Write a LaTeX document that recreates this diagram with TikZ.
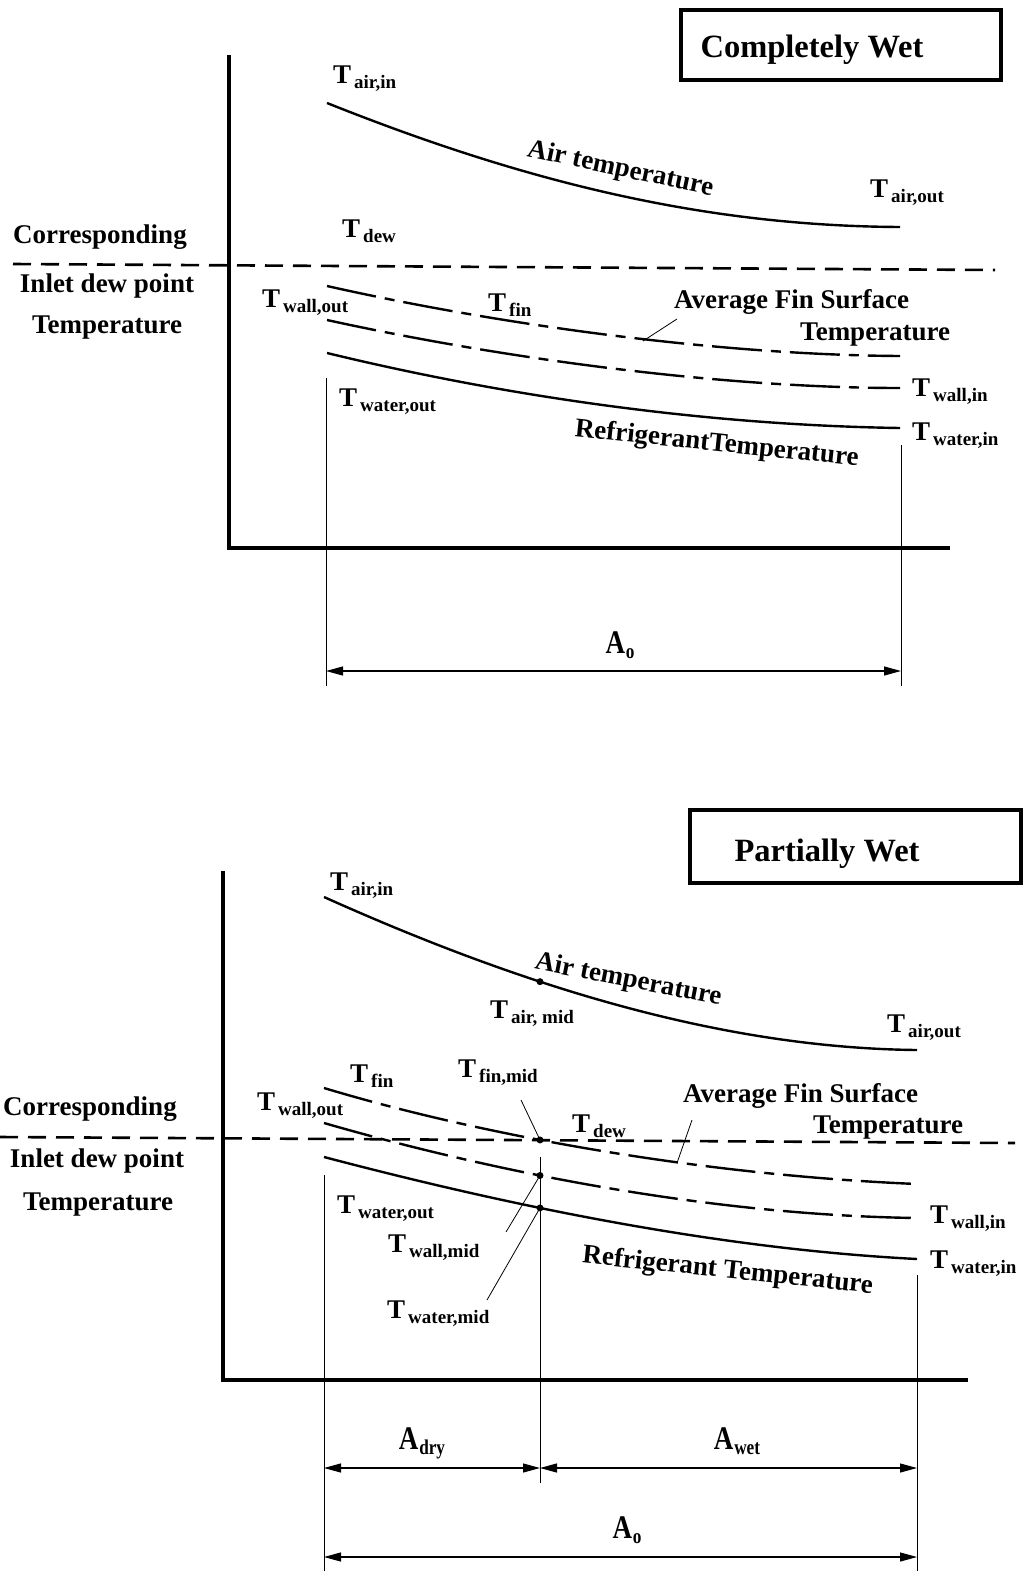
\documentclass[tikz,border=0pt]{standalone}
\usepackage{fontspec}
\usepackage{graphicx}
\setmainfont{Liberation Serif}
\usetikzlibrary{arrows.meta,intersections}
\newcommand\labfont{\fontsize{27}{30}\selectfont\bfseries}
\newcommand\Tl[1]{T\kern3pt\raisebox{-5pt}{\fontsize{19}{19}\selectfont #1}}
\newcommand\Al[1]{\scalebox{0.82}[1]{\fontsize{33}{33}\selectfont\bfseries A\kern1pt\raisebox{-5pt}{\fontsize{21}{21}\selectfont #1}}}
\begin{document}
\begin{tikzpicture}[x=1pt,y=-1pt,
  lbl/.style={font=\labfont, inner sep=0pt},
  axisline/.style={line width=4pt},
  curve/.style={line width=2.4pt},
  dashdot/.style={curve, dash pattern=on 50pt off 9pt on 10pt off 9pt},
  dewline/.style={line width=2.6pt, dash pattern=on 18pt off 10pt},
  thinline/.style={line width=0.9pt},
  leader/.style={line width=0.8pt},
  dimline/.style={line width=1.2pt,{Triangle[length=17pt,width=9pt]}-{Triangle[length=17pt,width=9pt]}},
  titlebox/.style={draw, line width=3.5pt, inner sep=0pt, font=\fontsize{32.5}{36}\selectfont\bfseries},
  dotmark/.style={circle, fill, inner sep=0pt, minimum size=7pt}]
\useasboundingbox (0,0) rectangle (1026,1571);

% ================= TOP PANEL =================
\node[titlebox, minimum width=320pt, minimum height=70pt] (box1) at (841,45) {\raisebox{-13pt}[0pt][0pt]{Completely Wet}\hspace*{58pt}};

\coordinate (y1top) at (229,55);
\coordinate (origin1) at (229,548);
\coordinate (x1end) at (950,548);
\draw[axisline] (y1top) -- (origin1) -- (x1end);

\coordinate (dew1a) at (13,264);
\coordinate (dew1b) at (995,270);
\draw[dewline] (dew1a) -- (dew1b);

\draw[curve] (327,103) .. controls (520,180) and (700,226) .. (900,227);
\draw[dashdot] (327,286) .. controls (500,325) and (720,355) .. (900,356);
\draw[dashdot] (327,320) .. controls (500,358) and (720,388) .. (900,388);
\draw[curve] (327,353) .. controls (500,395) and (700,425) .. (900,428);

\node[lbl, anchor=base west] (tairin1) at (333,84) {\Tl{air,in}};
\node[lbl, anchor=base west] (tairout1) at (870,197) {\Tl{air,out}};
\node[lbl, anchor=base west] (tdew1) at (342,237) {\Tl{dew}};
\node[lbl, anchor=base west] (twallout1) at (262,307) {\Tl{wall,out}};
\node[lbl, anchor=base west] (tfin1) at (488,311) {\Tl{fin}};
\node[lbl, anchor=base west] (twallin1) at (912,396) {\Tl{wall,in}};
\node[lbl, anchor=base west] (twaterin1) at (912,440) {\Tl{water,in}};
\node[lbl, anchor=base west] (twaterout1) at (339,406) {\Tl{water,out}};

\node[lbl, anchor=base] (corr1) at (100,243) {Corresponding};
\node[lbl, anchor=base] (inlet1) at (107,292) {Inlet dew point};
\node[lbl, anchor=base] (temp1) at (107,333) {Temperature};

\node[lbl, anchor=base west] (avg1) at (674,308) {Average Fin Surface};
\node[lbl, anchor=base west] (avgt1) at (800,340) {Temperature};
\coordinate (lead1a) at (677,319);
\coordinate (lead1b) at (643,341);
\draw[leader] (lead1a) -- (lead1b);

\node[lbl, anchor=base, rotate=-12] (airlab1) at (619,176) {Air temperature};
\node[lbl, anchor=base, rotate=-6] (reflab1) at (716,451) {RefrigerantTemperature};

\coordinate (v1a) at (326,378);
\coordinate (v1b) at (326,686);
\coordinate (v2a) at (901,445);
\coordinate (v2b) at (901,686);
\draw[thinline] (v1a) -- (v1b);
\draw[thinline] (v2a) -- (v2b);
\coordinate (ar1a) at (326,671);
\coordinate (ar1b) at (901,671);
\draw[dimline] (ar1a) -- (ar1b);
\node[inner sep=0pt, anchor=base] (ao1) at (620,653) {\Al{o}};

% ================= BOTTOM PANEL =================
\node[titlebox, minimum width=331pt, minimum height=73pt] (box2) at (855.5,846.5) {\raisebox{-15pt}[0pt][0pt]{Partially Wet}\hspace*{57pt}};

\coordinate (y2top) at (223,871);
\coordinate (origin2) at (223,1380);
\coordinate (x2end) at (968,1380);
\draw[axisline] (y2top) -- (origin2) -- (x2end);

\coordinate (dew2a) at (0,1137);
\coordinate (dew2b) at (1015,1143);
\draw[dewline] (dew2a) -- (dew2b);

\draw[curve, name path=airB] (324,897) .. controls (520,985) and (720,1048) .. (917,1050);
\draw[dashdot, name path=finB] (324,1088) .. controls (480,1135) and (700,1175) .. (917,1184);
\draw[dashdot, name path=wallB] (324,1123) .. controls (480,1168) and (700,1215) .. (917,1218);
\draw[curve, name path=waterB] (324,1157) .. controls (480,1198) and (700,1248) .. (917,1259);

\path[name path=vmid] (540,850) -- (540,1500);
\path[name intersections={of=airB and vmid, by=airmid}];
\path[name intersections={of=finB and vmid, by=finmid}];
\path[name intersections={of=wallB and vmid, by=wallmid}];
\path[name intersections={of=waterB and vmid, by=watermid}];

\coordinate (midtop) at (540,1157);
\coordinate (midbot) at (540,1483);
\draw[thinline] (midtop) -- (midbot);

\node[dotmark] (dair) at (airmid) {};
\node[dotmark] (dfin) at (finmid) {};
\node[dotmark] (dwall) at (wallmid) {};
\node[dotmark] (dwater) at (watermid) {};

\node[lbl, anchor=base west] (tairin2) at (330,890) {\Tl{air,in}};
\node[lbl, anchor=base west] (tairmid2) at (490,1018) {\Tl{air, mid}};
\node[lbl, anchor=base west] (tairout2) at (887,1032) {\Tl{air,out}};
\node[lbl, anchor=base west] (tfin2) at (350,1082) {\Tl{fin}};
\node[lbl, anchor=base west] (tfinmid2) at (458,1077) {\Tl{fin,mid}};
\node[lbl, anchor=base west] (twallout2) at (257,1110) {\Tl{wall,out}};
\node[lbl, anchor=base west] (tdew2) at (572,1132) {\Tl{dew}};
\node[lbl, anchor=base west] (twaterout2) at (337,1213) {\Tl{water,out}};
\node[lbl, anchor=base west] (twallmid2) at (388,1252) {\Tl{wall,mid}};
\node[lbl, anchor=base west] (twatermid2) at (387,1318) {\Tl{water,mid}};
\node[lbl, anchor=base west] (twallin2) at (930,1223) {\Tl{wall,in}};
\node[lbl, anchor=base west] (twaterin2) at (930,1268) {\Tl{water,in}};

\node[lbl, anchor=base] (corr2) at (90,1115) {Corresponding};
\node[lbl, anchor=base] (inlet2) at (97,1167) {Inlet dew point};
\node[lbl, anchor=base] (temp2) at (98,1210) {Temperature};

\node[lbl, anchor=base west] (avg2) at (683,1102) {Average Fin Surface};
\node[lbl, anchor=base west] (avgt2) at (813,1133) {Temperature};
\coordinate (lead2a) at (692,1120);
\coordinate (lead2b) at (677,1163);
\draw[leader] (lead2a) -- (lead2b);

\coordinate (lfin) at (521,1100);
\coordinate (lwall) at (506,1232);
\coordinate (lwater) at (487,1300);
\draw[leader] (lfin) -- (dfin.center);
\draw[leader] (lwall) -- (dwall.center);
\draw[leader] (lwater) -- (dwater.center);

\node[lbl, anchor=base, rotate=-11] (airlab2) at (627,987) {Air temperature};
\node[lbl, anchor=base, rotate=-6] (reflab2) at (727,1278) {Refrigerant Temperature};

\coordinate (w1a) at (324,1175);
\coordinate (w1b) at (324,1571);
\coordinate (w2a) at (917,1275);
\coordinate (w2b) at (917,1571);
\draw[thinline] (w1a) -- (w1b);
\draw[thinline] (w2a) -- (w2b);

\coordinate (d1a) at (324,1468);
\coordinate (d1m) at (540,1468);
\coordinate (d1b) at (917,1468);
\draw[dimline] (d1a) -- (d1m);
\draw[dimline] (d1m) -- (d1b);
\coordinate (d2a) at (324,1557);
\coordinate (d2b) at (917,1557);
\draw[dimline] (d2a) -- (d2b);

\node[inner sep=0pt, anchor=base] (adry) at (422,1449) {\Al{dry}};
\node[inner sep=0pt, anchor=base] (awet) at (737,1449) {\Al{wet}};
\node[inner sep=0pt, anchor=base] (ao2) at (627,1538) {\Al{o}};
\end{tikzpicture}
\end{document}
